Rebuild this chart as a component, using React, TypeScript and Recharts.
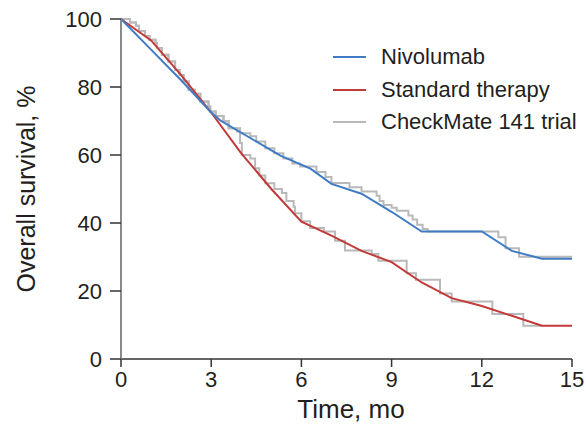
import React from 'react';
import { LineChart, Line, XAxis, YAxis, Label } from 'recharts';

// Model curves (month, overall survival %)
const nivoTimes = [0, 1, 2, 3, 3.3, 4.3, 5.3, 6.3, 7, 8, 9, 10, 12, 13, 14, 15];
const nivoValues = [100, 91, 82, 72.5, 70.2, 65, 59.8, 56, 51.5, 48.6, 43.3, 37.5, 37.5, 31.8, 29.5, 29.5];

const stdTimes = [0, 1, 2, 3, 4, 5, 6, 7, 8, 9, 10, 11, 12, 13, 14, 15];
const stdValues = [100, 93.7, 83.5, 72.5, 60.5, 50, 40.4, 36.3, 31.8, 28.5, 22.5, 17.9, 15.6, 12.7, 9.8, 9.8];

// CheckMate 141 Kaplan-Meier steps (time of step, value after step)
const sharedKmTimes = [0, 0.3, 0.5, 0.6, 0.8, 0.95, 1.15, 1.2, 1.36, 1.58, 1.8, 1.95, 2.08, 2.25, 2.45, 2.64, 2.91, 2.97, 3.15, 3.41, 3.58];
const sharedKmValues = [100, 99, 98, 96.5, 95, 93.9, 92.9, 91.5, 89.5, 87.5, 85, 83.5, 81.6, 79.2, 78, 75.7, 74.3, 72.8, 71.5, 69.9, 67.9];

const kmNivoTimes = [3.96, 4.3, 4.5, 4.8, 5.1, 5.4, 5.7, 5.96, 6.5, 6.8, 7.0, 7.6, 8.0, 8.5, 8.6, 8.73, 9.0, 9.17, 9.56, 9.7, 9.85, 10.03, 10.2, 12.55, 12.79, 13.24, 15];
const kmNivoValues = [66.4, 65.5, 64, 62, 60.5, 59, 57.5, 56.6, 55, 53.5, 51.8, 50.5, 49.3, 48, 46.5, 45.3, 44.5, 43.6, 42.2, 41, 39.5, 38.2, 37.5, 35.8, 32.6, 30.1, 30.1];

const kmStdTimes = [3.86, 3.96, 4.02, 4.3, 4.46, 4.6, 4.8, 5.1, 5.35, 5.5, 5.74, 5.79, 6.0, 6.29, 6.75, 7.12, 7.45, 8.34, 8.56, 9.5, 9.81, 10.61, 11.0, 12.35, 13.38, 14.0];
const kmStdValues = [66.9, 63.5, 60, 59, 56.1, 54, 51.7, 50, 48.8, 46.5, 44.8, 42.9, 40.5, 38.5, 37.5, 34.8, 31.9, 30.9, 28.9, 25.2, 23.3, 19.3, 16.9, 13.2, 9.8, 9.8];

const xTicks = [0, 3, 6, 9, 12, 15];
const yTicks = [0, 20, 40, 60, 80, 100];

const legendItems = [
  { name: 'Nivolumab', color: '#3f7cc4' },
  { name: 'Standard therapy', color: '#c23a3a' },
  { name: 'CheckMate 141 trial', color: '#b9b9b9' },
];

const toRows = (ts: number[], vs: number[]) => ts.map((t, i) => ({ t, v: vs[i] }));

const nivoData = toRows(nivoTimes, nivoValues);
const stdData = toRows(stdTimes, stdValues);
const kmNivoData = toRows(sharedKmTimes.concat(kmNivoTimes), sharedKmValues.concat(kmNivoValues));
const kmStdData = toRows(sharedKmTimes.concat(kmStdTimes), sharedKmValues.concat(kmStdValues));

const FONT = '"Liberation Sans", Arial, Helvetica, sans-serif';
const TEXT = '#231f20';

export default function App() {
  return (
    <div style={{ position: 'absolute', left: 0, top: 0, width: 586, height: 439, background: '#fff', fontFamily: FONT }}>
      <LineChart
        width={586}
        height={439}
        margin={{ top: 19, right: 14, bottom: 30, left: 61 }}
      >
        <XAxis
          type="number"
          dataKey="t"
          domain={[0, 15]}
          ticks={xTicks}
          allowDuplicatedCategory={false}
          height={50}
          tickSize={8}
          tickMargin={4}
          axisLine={{ stroke: '#333', strokeWidth: 1.5 }}
          tickLine={{ stroke: '#333', strokeWidth: 1.5 }}
          tick={{ fill: TEXT, fontSize: 22, fontFamily: FONT }}
        >
          <Label
            content={() => (
              <text x={351} y={418} textAnchor="middle" fill={TEXT} fontSize={26} fontFamily={FONT}>
                Time, mo
              </text>
            )}
          />
        </XAxis>
        <YAxis
          type="number"
          domain={[0, 100]}
          ticks={yTicks}
          width={60}
          tickSize={11}
          tickMargin={8}
          axisLine={{ stroke: '#8a8a8a', strokeWidth: 2 }}
          tickLine={{ stroke: '#333', strokeWidth: 1.5 }}
          tick={{ fill: TEXT, fontSize: 22, fontFamily: FONT }}
        >
          <Label
            content={() => (
              <text x={35} y={189} transform="rotate(-90 35 189)" textAnchor="middle" fill={TEXT} fontSize={25} fontFamily={FONT}>
                Overall survival, %
              </text>
            )}
          />
        </YAxis>
        <Line data={kmNivoData} dataKey="v" type="stepAfter" stroke="#b9b9b9" strokeWidth={2} dot={false} isAnimationActive={false} />
        <Line data={kmStdData} dataKey="v" type="stepAfter" stroke="#b9b9b9" strokeWidth={2} dot={false} isAnimationActive={false} />
        <Line data={stdData} dataKey="v" type="linear" stroke="#c23a3a" strokeWidth={2} dot={false} isAnimationActive={false} />
        <Line data={nivoData} dataKey="v" type="linear" stroke="#3f7cc4" strokeWidth={2} dot={false} isAnimationActive={false} />
      </LineChart>
      <div style={{ position: 'absolute', left: 333, top: 41, fontFamily: FONT, fontSize: 22, color: TEXT }}>
        {legendItems.map((it) => (
          <div key={it.name} style={{ display: 'flex', alignItems: 'center', height: 32.5 }}>
            <div style={{ width: 33, height: 2, background: it.color, marginRight: 15 }} />
            <span>{it.name}</span>
          </div>
        ))}
      </div>
    </div>
  );
}
